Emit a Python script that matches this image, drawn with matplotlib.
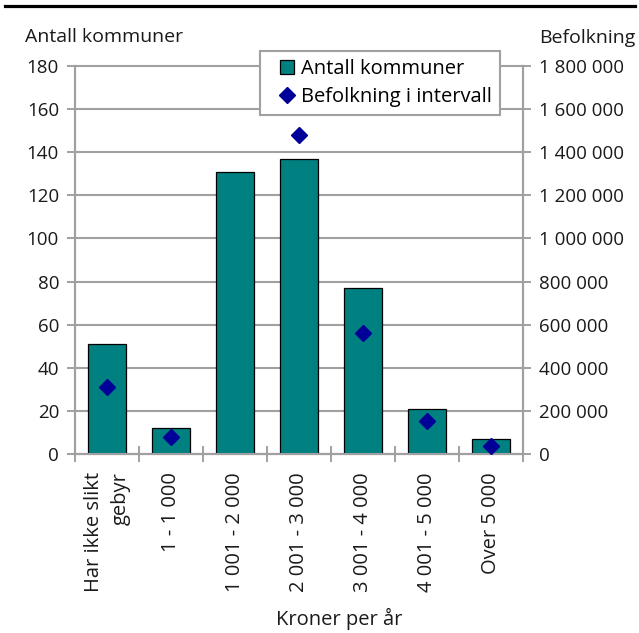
import matplotlib
matplotlib.use("Agg")
import matplotlib.pyplot as plt
from matplotlib.lines import Line2D

plt.rcParams["font.family"] = ["Open Sans", "DejaVu Sans"]

categories = ["Har ikke slikt\ngebyr", "1 - 1 000", "1 001 - 2 000", "2 001 - 3 000",
              "3 001 - 4 000", "4 001 - 5 000", "Over 5 000"]
antall_kommuner = [51, 12, 131, 137, 77, 21, 7]
# 1 001 - 2 000 lies above the axis maximum and is clipped in the original
befolkning = [310000, 80000, 2150000, 1480000, 560000, 155000, 35000]

left_ticks = list(range(0, 181, 20))
right_ticks = list(range(0, 1800001, 200000))

teal = "#008080"
navy = "#000099"
grey = "#a0a0a0"
txt = "#1a1a1a"
fs = 13.5
fs_big = 14.5


def fmt(v):
    return f"{v:,}".replace(",", " ")


fig = plt.figure(figsize=(6.39, 6.33), dpi=100)
ax = fig.add_axes([75 / 639, 1 - 454 / 633, 448 / 639, 388 / 633])
ax2 = ax.twinx()

x = list(range(len(categories)))
ax.bar(x, antall_kommuner, width=0.59, color=teal, edgecolor="black",
       linewidth=0.9, zorder=3)
ax2.plot(x, befolkning, linestyle="none", marker="D", markersize=8,
         color=navy, zorder=4)

ax.set_xlim(-0.5, len(categories) - 0.5)
ax.set_ylim(0, 180)
ax2.set_ylim(0, 1800000)

ax.set_yticks(left_ticks)
ax.set_yticklabels([str(v) for v in left_ticks], fontsize=fs, color=txt)
ax2.set_yticks(right_ticks)
ax2.set_yticklabels([fmt(v) for v in right_ticks], fontsize=fs, color=txt)

ax.set_xticks([i - 0.5 for i in range(len(categories) + 1)])
ax.set_xticklabels([])
ax.set_xticks(x, minor=True)
ax.set_xticklabels(categories, minor=True, rotation=90, fontsize=fs_big,
                   ha="center", va="top", multialignment="right",
                   linespacing=1.45, color=txt)
ax.tick_params(axis="x", which="minor", length=0, pad=13)
ax.tick_params(axis="x", which="major", direction="inout", length=11,
               width=1.4, color=grey)
ax.tick_params(axis="y", direction="inout", length=11, width=1.4, color=grey, pad=6)
ax2.tick_params(axis="y", direction="inout", length=11, width=1.4, color=grey, pad=6)

ax.yaxis.grid(True, color=grey, linewidth=1.5, zorder=0)
for gl in ax.get_ygridlines():
    gl.set_clip_on(False)
ax.set_axisbelow(True)

for a in (ax, ax2):
    a.spines["top"].set_visible(False)
    for s in ("left", "right", "bottom"):
        a.spines[s].set_color(grey)
        a.spines[s].set_linewidth(1.5)

fig.text(339 / 639, 1 - 619 / 633, "Kroner per år", fontsize=fs_big,
         ha="center", va="center", color=txt)
fig.text(25 / 639, 1 - 37 / 633, "Antall kommuner", fontsize=14,
         ha="left", va="center", color=txt)
fig.text(635 / 639, 1 - 38 / 633, "Befolkning", fontsize=14,
         ha="right", va="center", color=txt)

handles = [
    Line2D([], [], linestyle="none", marker="s", markersize=10,
           markerfacecolor=teal, markeredgecolor="black", markeredgewidth=0.9),
    Line2D([], [], linestyle="none", marker="D", markersize=8, color=navy),
]
leg = ax2.legend(handles, ["Antall kommuner", "Befolkning i intervall"],
                 loc="upper left", bbox_to_anchor=(260 / 639, 1 - 51 / 633),
                 bbox_transform=fig.transFigure, fontsize=fs_big, frameon=True,
                 fancybox=False, edgecolor=grey, framealpha=1,
                 handlelength=1.9, handletextpad=-0.25, borderpad=0.4,
                 labelspacing=0.4, borderaxespad=0)
leg.get_frame().set_linewidth(1.5)

fig.add_artist(Line2D([5 / 639, 635 / 639], [1 - 6 / 633, 1 - 6 / 633],
                      transform=fig.transFigure, color="black", linewidth=2.3))

fig.savefig("out.png", dpi=100)
plt.close(fig)
